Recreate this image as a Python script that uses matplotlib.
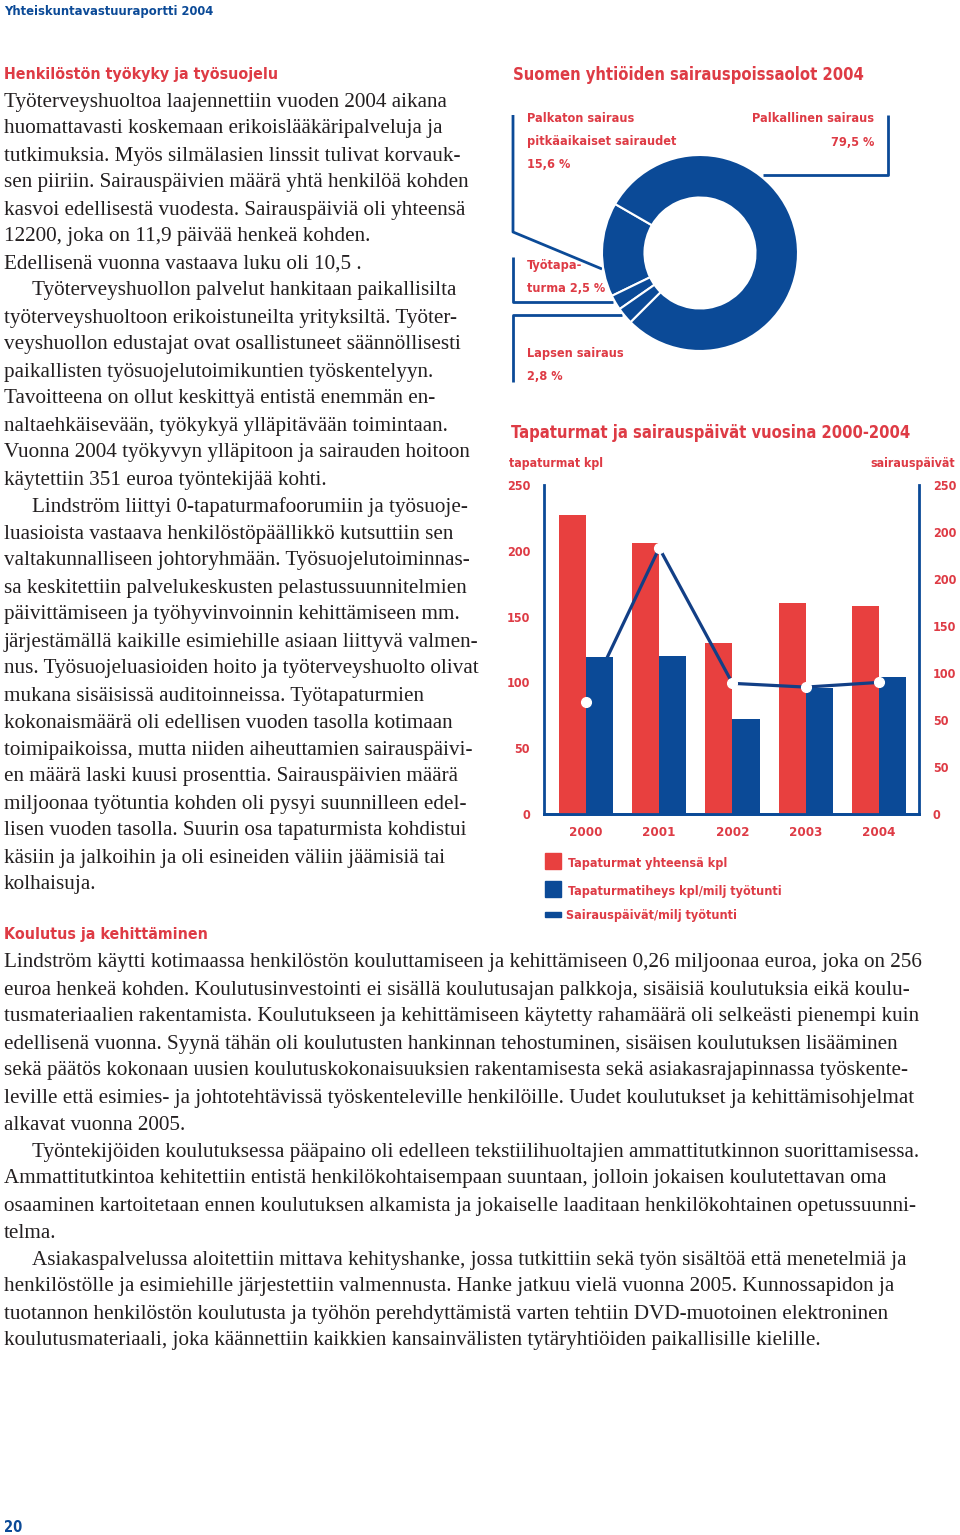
import matplotlib
matplotlib.use('Agg')
import matplotlib.pyplot as plt
from matplotlib.patches import Rectangle

RED = '#e8403f'
TRED = '#de3b45'
BLUE = '#0b4a97'
LINE = '#123f86'
BODY = '#231f20'
COND = ['DejaVu Sans']
SERIF = ['Liberation Serif', 'DejaVu Serif']

# donut data (order as drawn counter-clockwise from 150 deg)
donut_labels = ['Palkaton sairaus', 'Työtapaturma', 'Lapsen sairaus', 'Palkallinen sairaus']
donut_values = [15.6, 2.5, 2.8, 79.5]

# bar chart data
years = ['2000', '2001', '2002', '2003', '2004']
tapaturmat = [227, 206, 130, 160, 158]
tiheys = [119, 120, 72, 96, 104]
sairauspaivat = [119, 283, 139, 135, 140]
left_ticks = [0, 50, 100, 150, 200, 250]
right_ticks = [0, 50, 100, 150, 200, 250, 300, 350]
right_ticklabels = ['0', '50', '50', '100', '150', '200', '200', '250']

left_text = [
    'Työterveyshuoltoa laajennettiin vuoden 2004 aikana',
    'huomattavasti koskemaan erikoislääkäripalveluja ja',
    'tutkimuksia. Myös silmälasien linssit tulivat korvauk-',
    'sen piiriin. Sairauspäivien määrä yhtä henkilöä kohden',
    'kasvoi edellisestä vuodesta. Sairauspäiviä oli yhteensä',
    '12200, joka on 11,9 päivää henkeä kohden.',
    'Edellisenä vuonna vastaava luku oli 10,5 .',
    '>Työterveyshuollon palvelut hankitaan paikallisilta',
    'työterveyshuoltoon erikoistuneilta yrityksiltä. Työter-',
    'veyshuollon edustajat ovat osallistuneet säännöllisesti',
    'paikallisten työsuojelutoimikuntien työskentelyyn.',
    'Tavoitteena on ollut keskittyä entistä enemmän en-',
    'naltaehkäisevään, työkykyä ylläpitävään toimintaan.',
    'Vuonna 2004 työkyvyn ylläpitoon ja sairauden hoitoon',
    'käytettiin 351 euroa työntekijää kohti.',
    '>Lindström liittyi 0-tapaturmafoorumiin ja työsuoje-',
    'luasioista vastaava henkilöstöpäällikkö kutsuttiin sen',
    'valtakunnalliseen johtoryhmään. Työsuojelutoiminnas-',
    'sa keskitettiin palvelukeskusten pelastussuunnitelmien',
    'päivittämiseen ja työhyvinvoinnin kehittämiseen mm.',
    'järjestämällä kaikille esimiehille asiaan liittyvä valmen-',
    'nus. Työsuojeluasioiden hoito ja työterveyshuolto olivat',
    'mukana sisäisissä auditoinneissa. Työtapaturmien',
    'kokonaismäärä oli edellisen vuoden tasolla kotimaan',
    'toimipaikoissa, mutta niiden aiheuttamien sairauspäivi-',
    'en määrä laski kuusi prosenttia. Sairauspäivien määrä',
    'miljoonaa työtuntia kohden oli pysyi suunnilleen edel-',
    'lisen vuoden tasolla. Suurin osa tapaturmista kohdistui',
    'käsiin ja jalkoihin ja oli esineiden väliin jäämisiä tai',
    'kolhaisuja.',
]

bottom_text = [
    'Lindström käytti kotimaassa henkilöstön kouluttamiseen ja kehittämiseen 0,26 miljoonaa euroa, joka on 256',
    'euroa henkeä kohden. Koulutusinvestointi ei sisällä koulutusajan palkkoja, sisäisiä koulutuksia eikä koulu-',
    'tusmateriaalien rakentamista. Koulutukseen ja kehittämiseen käytetty rahamäärä oli selkeästi pienempi kuin',
    'edellisenä vuonna. Syynä tähän oli koulutusten hankinnan tehostuminen, sisäisen koulutuksen lisääminen',
    'sekä päätös kokonaan uusien koulutuskokonaisuuksien rakentamisesta sekä asiakasrajapinnassa työskente-',
    'leville että esimies- ja johtotehtävissä työskenteleville henkilöille. Uudet koulutukset ja kehittämisohjelmat',
    'alkavat vuonna 2005.',
    '>Työntekijöiden koulutuksessa pääpaino oli edelleen tekstiilihuoltajien ammattitutkinnon suorittamisessa.',
    'Ammattitutkintoa kehitettiin entistä henkilökohtaisempaan suuntaan, jolloin jokaisen koulutettavan oma',
    'osaaminen kartoitetaan ennen koulutuksen alkamista ja jokaiselle laaditaan henkilökohtainen opetussuunni-',
    'telma.',
    '>Asiakaspalvelussa aloitettiin mittava kehityshanke, jossa tutkittiin sekä työn sisältöä että menetelmiä ja',
    'henkilöstölle ja esimiehille järjestettiin valmennusta. Hanke jatkuu vielä vuonna 2005. Kunnossapidon ja',
    'tuotannon henkilöstön koulutusta ja työhön perehdyttämistä varten tehtiin DVD-muotoinen elektroninen',
    'koulutusmateriaali, joka käännettiin kaikkien kansainvälisten tytäryhtiöiden paikallisille kielille.',
]

W, H = 960, 1535
fig = plt.figure(figsize=(W / 100, H / 100), dpi=100)

# page axes in pixel coordinates
page = fig.add_axes([0, 0, 1, 1])
page.set_xlim(0, W)
page.set_ylim(H, 0)
page.axis('off')


def cond(x, y, s, size, color=TRED, **kw):
    page.text(x, y, s, fontsize=size, color=color, family=COND,
              fontweight='bold', fontstretch='condensed', va='center', **kw)


def body(lines, x0, y0, size=15.2, step=27):
    for i, ln in enumerate(lines):
        x = x0
        if ln.startswith('>'):
            ln = ln[1:]
            x = x0 + 28
        page.text(x, y0 + i * step, ln, fontsize=size, color=BODY,
                  family=SERIF, va='center')


cond(4, 12, 'Yhteiskuntavastuuraportti 2004', 9.3, color=BLUE)
cond(4, 75, 'Henkilöstön työkyky ja työsuojelu', 11.4)
body(left_text, 4, 102)
cond(4, 935, 'Koulutus ja kehittäminen', 11.4)
body(bottom_text, 4, 963)
cond(4, 1527, '20', 10.5, color=BLUE)

# ---- donut ----
cond(513, 75, 'Suomen yhtiöiden sairauspoissaolot 2004', 11.9)
dax = fig.add_axes([600 / W, 1 - 353 / H, 200 / W, 200 / H])
dax.pie(donut_values, startangle=150, counterclock=True, radius=0.98,
        colors=[BLUE] * 4,
        wedgeprops=dict(width=0.425, edgecolor='white', linewidth=1.5))
dax.set_xlim(-1, 1)
dax.set_ylim(-1, 1)
dax.set_aspect('equal')
dax.axis('off')

lk = dict(color=BLUE, lw=2, solid_capstyle='butt')
page.plot([888, 888, 763], [115, 175, 175], **lk)
page.plot([513, 513, 602], [115, 232, 269], **lk)
page.plot([513, 513, 613], [257, 302, 302], **lk)
page.plot([622, 513, 513], [315, 315, 382], **lk)

ls = 9.1
cond(527, 119, 'Palkaton sairaus', ls)
cond(527, 142, 'pitkäaikaiset sairaudet', ls)
cond(527, 165, '15,6 %', ls)
cond(874, 119, 'Palkallinen sairaus', ls, ha='right')
cond(874, 142, '79,5 %', ls, ha='right')
cond(527, 266, 'Työtapa-', ls)
cond(527, 289, 'turma 2,5 %', ls)
cond(527, 354, 'Lapsen sairaus', ls)
cond(527, 377, '2,8 %', ls)

# ---- bar chart ----
cond(511, 433, 'Tapaturmat ja sairauspäivät vuosina 2000-2004', 11.9)
cond(509, 464, 'tapaturmat kpl', 8.9)
cond(955, 464, 'sairauspäivät', 8.9, ha='right')

ax = fig.add_axes([544 / W, 1 - 814 / H, 375 / W, 329 / H])
ax2 = ax.twinx()
x = list(range(len(years)))
bw = 0.37
ax.bar([i - bw / 2 for i in x], tapaturmat, width=bw, color=RED, zorder=2)
# line sits above the red bars but under the blue ones
ax2.plot(x, sairauspaivat, color=LINE, lw=2.3, zorder=2)
ax2.bar([i + bw / 2 for i in x], tiheys, width=bw, color=BLUE, zorder=3,
        transform=ax.transData)
ax2.plot(x, sairauspaivat, 'o', ms=7, mfc='white', mec='white', zorder=4)

ax.set_xlim(-0.573, 4.546)
ax.set_ylim(0, 250)
ax2.set_ylim(0, 350)
ax.set_yticks(left_ticks)
ax2.set_yticks(right_ticks)
ax2.set_yticklabels(right_ticklabels)
ax.set_xticks(x)
ax.set_xticklabels(years)

for a in (ax, ax2):
    a.patch.set_visible(False)
    a.spines['top'].set_visible(False)
    for s in ('left', 'right', 'bottom'):
        a.spines[s].set_color(BLUE)
        a.spines[s].set_linewidth(2)
        a.spines[s].set_zorder(1)
ax.spines['right'].set_visible(False)
ax2.spines['left'].set_visible(False)

ax.tick_params(axis='x', length=0, pad=9, labelcolor=TRED, labelsize=9.5)
ax.tick_params(axis='y', length=0, pad=10, labelcolor=TRED, labelsize=9)
ax2.tick_params(axis='y', length=0, pad=10, labelcolor=TRED, labelsize=9)
for a in (ax, ax2):
    for lab in a.get_xticklabels() + a.get_yticklabels():
        lab.set_family(COND)
        lab.set_fontweight('bold')
        lab.set_fontstretch('condensed')
for t in ax.yaxis.get_major_ticks():
    t.tick1line.set_marker('o')
    t.tick1line.set_markersize(6.5)
    t.tick1line.set_color(RED)
    t.tick1line.set_markeredgewidth(0)
for t in ax2.yaxis.get_major_ticks():
    t.tick2line.set_marker('o')
    t.tick2line.set_markersize(6.5)
    t.tick2line.set_color(RED)
    t.tick2line.set_markeredgewidth(0)
for a in (ax, ax2):
    a.tick_params(axis='y', length=0.01)

# legend
page.add_patch(Rectangle((545, 853), 16, 16, color=RED))
page.add_patch(Rectangle((545, 881), 16, 16, color=BLUE))
page.add_patch(Rectangle((545, 912), 16, 5, color=BLUE))
cond(568, 864, 'Tapaturmat yhteensä kpl', 9)
cond(568, 892, 'Tapaturmatiheys kpl/milj työtunti', 9)
cond(566, 915, 'Sairauspäivät/milj työtunti', 9)

fig.savefig('out.png', dpi=100)
